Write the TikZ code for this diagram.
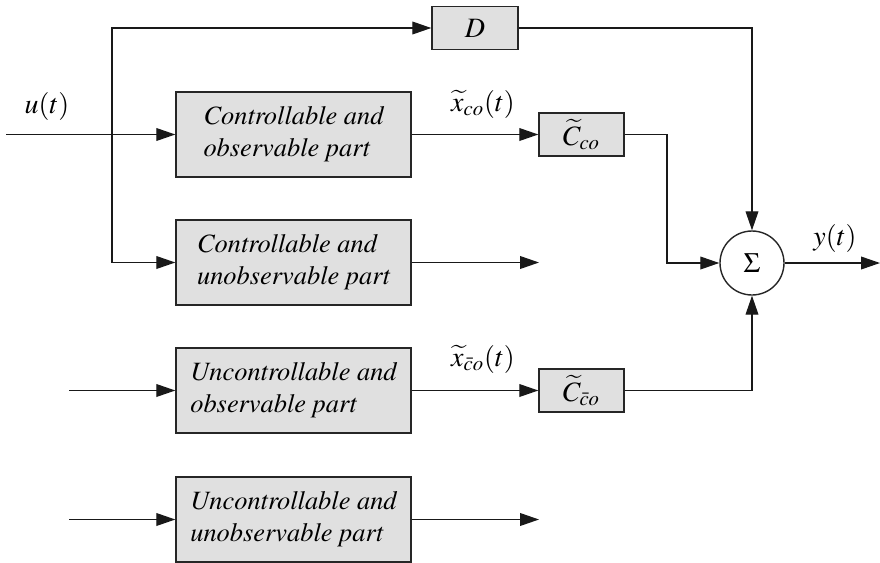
\documentclass[tikz,border=0pt]{standalone}
\usepackage[T1]{fontenc}
\usepackage{mathptmx}
\newcommand\timesit{\fontencoding{T1}\fontfamily{ptm}\fontseries{m}\fontshape{it}\selectfont}
\usetikzlibrary{arrows.meta}
\tikzset{
  blk/.style={draw=black!85, line width=0.7pt, fill=black!12, inner sep=0pt},
  bigblk/.style={blk, minimum width=117.5pt, minimum height=42.5pt, align=left,
     font=\fontsize{13.2}{16}\timesit},
  smallblk/.style={blk, minimum width=42.5pt, minimum height=21.5pt, font=\fontsize{14}{16}\selectfont},
  sumnode/.style={circle, draw=black!85, line width=0.7pt, fill=white, minimum size=32pt, inner sep=0pt,
     font=\fontsize{14}{16}\selectfont},
  lbl/.style={font=\fontsize{14}{16}\selectfont, inner sep=0pt},
  conn/.style={line width=0.6pt, draw=black!90},
  arr/.style={conn, -{Triangle[length=9.5pt,width=6.4pt]}}
}
\begin{document}
\begin{tikzpicture}[x=0.5pt,y=-0.5pt]
\useasboundingbox (0,0) rectangle (880,563);
% blocks
\node[bigblk] (b1) at (293.5,134.5) {Controllable and\\observable part};
\node[bigblk] (b2) at (293.5,262.5) {Controllable and\\unobservable part};
\node[bigblk] (b3) at (293.5,390.5) {Uncontrollable and\\observable part};
\node[bigblk] (b4) at (293.5,519.5) {Uncontrollable and\\unobservable part};
\node[smallblk, minimum width=43pt] (D) at (475,28) {$D$};
\node[smallblk] (C1) at (581.5,134.5) {$\widetilde{C}_{co}$};
\node[smallblk] (C2) at (581.5,390.5) {$\widetilde{C}_{\bar{c}o}$};
\node[sumnode] (sum) at (752,263) {$\Sigma$};
% coordinates
\coordinate (in) at (6,134.5);
\coordinate (br) at (112,134.5);
\coordinate (t1) at (667,263);
\coordinate (out) at (880,263);
\coordinate (o2) at (539,262.5);
\coordinate (i3) at (69,390.5);
\coordinate (i4) at (69,519.5);
\coordinate (o4) at (539,519.5);
% labels
\node[lbl] (lu) at (47,106) {$u(t)$};
\node[lbl] (lx1) at (483,104) {$\widetilde{x}_{co}(t)$};
\node[lbl] (lx2) at (483,359) {$\widetilde{x}_{\bar{c}o}(t)$};
\node[lbl] (ly) at (835,238) {$y(t)$};
% connectors
\draw[arr] (in) -- (b1.west);
\draw[arr] (br) |- (D.west);
\draw[arr] (br) |- (b2.west);
\draw[arr] (b1.east) -- (C1.west);
\draw[arr] (C1.east) -| (t1) -- (sum.west);
\draw[arr] (D.east) -| (sum.north);
\draw[arr] (C2.east) -| (sum.south);
\draw[arr] (sum.east) -- (out);
\draw[arr] (b2.east) -- (o2);
\draw[arr] (i3) -- (b3.west);
\draw[arr] (b3.east) -- (C2.west);
\draw[arr] (i4) -- (b4.west);
\draw[arr] (b4.east) -- (o4);
\end{tikzpicture}
\end{document}
